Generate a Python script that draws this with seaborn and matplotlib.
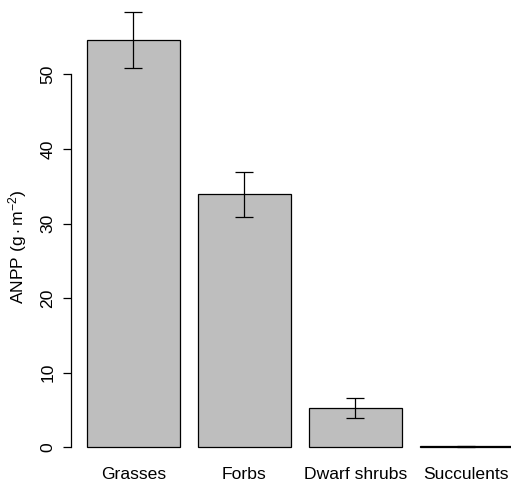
import numpy as np
import pandas as pd
import matplotlib
matplotlib.use("Agg")
import matplotlib.pyplot as plt
import seaborn as sns

# values
groups = ["Grasses", "Forbs", "Dwarf shrubs", "Succulents"]
anpp = [54.6, 33.9, 5.3, 0.15]
anpp_se = [3.7, 3.0, 1.35, 0.05]
yticks = [0, 10, 20, 30, 40, 50]

sns.set_style("white")
plt.rcParams["font.family"] = ["Liberation Sans", "DejaVu Sans"]
plt.rcParams["mathtext.fontset"] = "custom"
plt.rcParams["mathtext.rm"] = "Liberation Sans"
plt.rcParams["mathtext.it"] = "Liberation Sans:italic"
plt.rcParams["text.color"] = "black"
plt.rcParams["axes.labelcolor"] = "black"
plt.rcParams["xtick.color"] = "black"
plt.rcParams["ytick.color"] = "black"

df = pd.DataFrame({"group": groups, "anpp": anpp, "se": anpp_se})

W, H = 511, 483
fig = plt.figure(figsize=(W / 100, H / 100), dpi=100)
# axes box in pixels: left 70.5, right 511, top 5, bottom 460
ax = fig.add_axes([70.5 / W, (H - 460) / H, (W - 70.5) / W, 455 / H])

sns.barplot(data=df, x="group", y="anpp", color="#BEBEBE", saturation=1,
            width=1 / 1.2, edgecolor="black", linewidth=0.9, ax=ax)

pos = np.arange(len(groups))
ax.errorbar(pos, df["anpp"], yerr=df["se"], fmt="none", ecolor="black",
            elinewidth=0.9, capsize=6.8, capthick=0.9)

# pixel -> data mapping of the reference
ax.set_xlim(-0.568, 3.404)
ax.set_ylim(-(460 - 447.3) / 7.46, (447.3 - 5) / 7.46)

sns.despine(ax=ax, top=True, right=True, bottom=True)
ax.spines["left"].set_bounds(0, 50)
ax.spines["left"].set_linewidth(0.9)
ax.spines["left"].set_color("black")

ax.set_yticks(yticks)
ax.set_yticklabels([str(v) for v in yticks], rotation=90, va="center")
ax.tick_params(axis="y", length=5.8, width=0.9, pad=5,
               labelsize=12.6, left=True)
ax.tick_params(axis="x", length=0, pad=5, labelsize=12.6)

ax.set_xlabel("")
ax.set_ylabel(r"ANPP ($\mathrm{g} \cdot \mathrm{m}^{-2}$)", fontsize=12.6)
ax.yaxis.set_label_coords(-0.095, 0.468)

fig.savefig("out.png", dpi=100)
